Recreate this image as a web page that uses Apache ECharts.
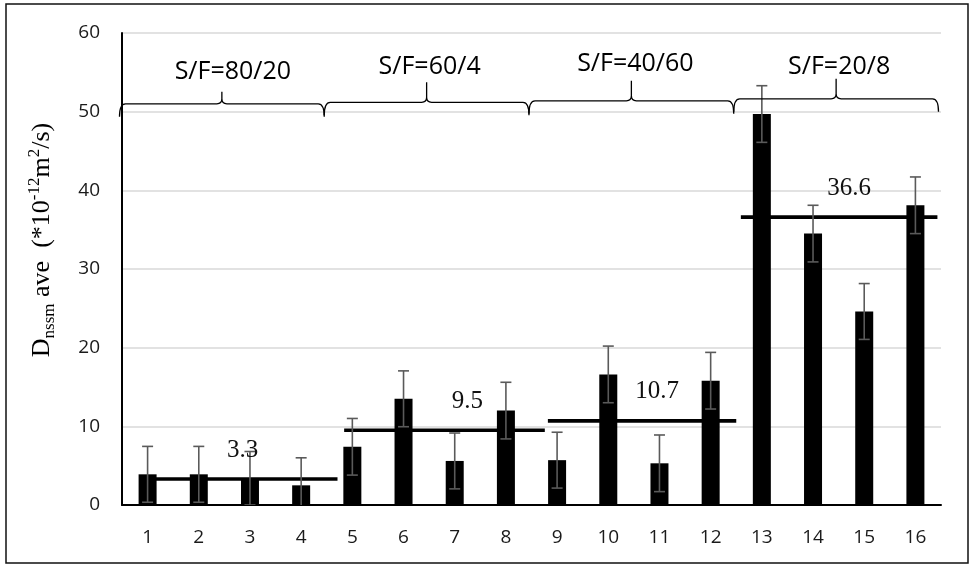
<!DOCTYPE html>
<html>
<head>
<meta charset="utf-8">
<script src="https://cdn.jsdelivr.net/npm/echarts@6/dist/echarts.min.js"></script>
<style>html,body{margin:0;padding:0;background:#fff}#c{width:971px;height:565px}</style>
</head>
<body>
<div id="c"></div>
<script>
// ---- data ----
const categories = ['1','2','3','4','5','6','7','8','9','10','11','12','13','14','15','16'];
const values = [3.9, 3.9, 3.4, 2.5, 7.4, 13.5, 5.6, 12.0, 5.7, 16.6, 5.3, 15.8, 49.7, 34.5, 24.6, 38.1];
const errors = [3.55, 3.55, 3.4, 3.5, 3.6, 3.55, 3.55, 3.6, 3.55, 3.6, 3.6, 3.6, 3.6, 3.6, 3.55, 3.6];
const groupLabels = ['S/F=80/20', 'S/F=60/4', 'S/F=40/60', 'S/F=20/8'];
const groupAverages = [3.3, 9.5, 10.7, 36.6];
const avgLineStart = [1.0, 4.84, 8.82, 12.59];
const avgLineEnd = [4.71, 8.76, 12.5, 16.43];
const yTickMin = 0, yTickMax = 60, yTickStep = 10;

// ---- styles ----
const labelDx = [0, 23, 15, 10];
const braceTipH = [12, 20, 20, 20];
const braceDy = [0, -1.5, -3, -5];
const braceTextY = [71.5, 66.5, 63.5, 66.5];
const braceTextDx = [11, 3, 4, 3];

const chart = echarts.init(document.getElementById('c'), null, {renderer: 'canvas'});

const series = [];
series.push({
  type: 'bar', data: values, barWidth: 18, xAxisIndex: 0, yAxisIndex: 0,
  itemStyle: { color: '#000' }, z: 2, silent: true
});
groupAverages.forEach((a, g) => {
  series.push({
    type: 'line', xAxisIndex: 1, yAxisIndex: 0, symbol: 'none', z: 3, silent: true,
    data: [[avgLineStart[g], a], [avgLineEnd[g], a]],
    lineStyle: { color: '#000', width: 3.6 }
  });
});
series.push({
  type: 'custom', xAxisIndex: 0, yAxisIndex: 0, z: 4, clip: true, silent: true,
  data: values.map((v, i) => [i, v - errors[i], v + errors[i]]),
  renderItem: function (params, api) {
    const hi = api.coord([api.value(0), api.value(2)]);
    const lo = api.coord([api.value(0), api.value(1)]);
    const st = { stroke: '#5a5a5a', lineWidth: 1.6 };
    const hw = 5.5;
    return { type: 'group', children: [
      { type: 'line', shape: { x1: hi[0], y1: hi[1], x2: lo[0], y2: lo[1] }, style: st },
      { type: 'line', shape: { x1: hi[0]-hw, y1: hi[1], x2: hi[0]+hw, y2: hi[1] }, style: st },
      { type: 'line', shape: { x1: lo[0]-hw, y1: lo[1], x2: lo[0]+hw, y2: lo[1] }, style: st }
    ]};
  }
});
series.push({
  type: 'custom', xAxisIndex: 1, yAxisIndex: 0, z: 5, silent: true,
  data: groupAverages.map((a, g) => [(avgLineStart[g] + avgLineEnd[g]) / 2, a, g]),
  renderItem: function (params, api) {
    const g = api.value(2);
    const p = api.coord([api.value(0), api.value(1)]);
    return { type: 'text', x: p[0] + labelDx[g], y: p[1] - 29,
      style: { text: String(groupAverages[g]), fill: '#111', font: '25px "Liberation Serif", "Times New Roman", serif',
        align: 'center', verticalAlign: 'middle' } };
  }
});
series.push({
  type: 'custom', xAxisIndex: 1, yAxisIndex: 0, z: 5, silent: true,
  data: groupLabels.map((l, g) => [g * 4 + 0.5, g * 4 + 4.5, g]),
  renderItem: function (params, api) {
    const g = api.value(2);
    const a = api.coord([api.value(0), 51]);
    const b = api.coord([api.value(1), 51]);
    const x1 = a[0] - 2.5, x2 = b[0] - 2.5, yb = a[1] + braceDy[g];
    const xm = (x1 + x2) / 2, th = braceTipH[g], d = 13;
    const path = 'M' + x1 + ',' + (yb + d) + ' Q' + x1 + ',' + yb + ' ' + (x1 + 6) + ',' + yb +
      ' L' + (xm - 5) + ',' + yb + ' Q' + xm + ',' + yb + ' ' + xm + ',' + (yb - 5) +
      ' L' + xm + ',' + (yb - th) +
      ' M' + xm + ',' + (yb - 5) + ' Q' + xm + ',' + yb + ' ' + (xm + 5) + ',' + yb +
      ' L' + (x2 - 6) + ',' + yb + ' Q' + x2 + ',' + yb + ' ' + x2 + ',' + (yb + d);
    return { type: 'group', children: [
      { type: 'path', shape: { pathData: path }, style: { fill: 'none', stroke: '#000', lineWidth: 1.3 } },
      { type: 'text', x: xm + braceTextDx[g], y: braceTextY[g],
        style: { text: groupLabels[g], fill: '#000', font: '25px "Open Sans", sans-serif', align: 'center', verticalAlign: 'middle' } }
    ]};
  }
});

const option = {
  animation: false,
  backgroundColor: '#fff',
  grid: { left: 122, right: 30, top: 33, bottom: 60 },
  xAxis: [
    { type: 'category', data: categories, boundaryGap: true,
      axisLine: { lineStyle: { color: '#000', width: 2 } }, axisTick: { show: false },
      axisLabel: { color: '#1a1a1a', fontSize: 19, fontFamily: 'Open Sans', margin: 23 } },
    { type: 'value', min: 0.5, max: 16.5, show: false }
  ],
  yAxis: [{
    type: 'value', min: yTickMin, max: yTickMax, interval: yTickStep,
    axisLine: { show: true, lineStyle: { color: '#000', width: 2 } }, axisTick: { show: false },
    axisLabel: { color: '#1a1a1a', fontSize: 19, fontFamily: 'Open Sans', margin: 22 },
    splitLine: { lineStyle: { color: '#d9d9d9', width: 1.5 } }
  }],
  graphic: [
    { type: 'text', x: 42, y: 240, rotation: Math.PI / 2, silent: true,
      style: {
        text: '{m|D}{s|nssm}{m| ave  (*10}{p|-12}{m|m}{p|2}{m|/s)}',
        align: 'center', verticalAlign: 'middle',
        rich: {
          m: { fontFamily: '"Liberation Serif", serif', fontSize: 26, fill: '#000', lineHeight: 32, verticalAlign: 'middle' },
          s: { fontFamily: '"Liberation Serif", serif', fontSize: 17, fill: '#000', lineHeight: 17, verticalAlign: 'bottom' },
          p: { fontFamily: '"Liberation Serif", serif', fontSize: 17, fill: '#000', lineHeight: 17, verticalAlign: 'top' }
        }
      } },
    { type: 'rect', silent: true, shape: { x: 6, y: 4, width: 962, height: 559 },
      style: { fill: 'none', stroke: '#111', lineWidth: 1.5 } }
  ],
  series: series
};
chart.setOption(option);
</script>
</body>
</html>
